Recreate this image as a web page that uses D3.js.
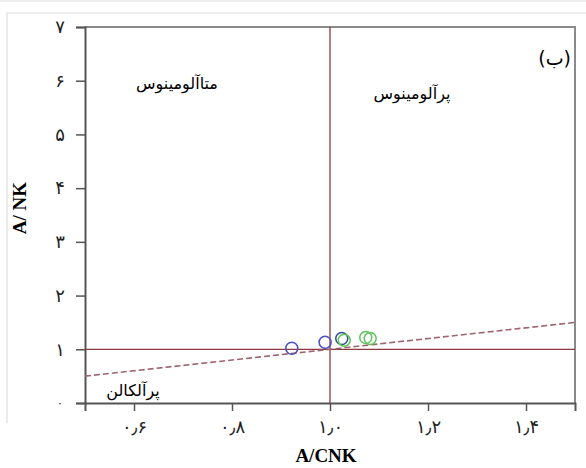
<!DOCTYPE html>
<meta charset="utf-8">
<script src="https://d3js.org/d3.v7.min.js"></script>
<html>
<head>
<style>
body { margin: 0; background: white; }
.tick text { font-family: "DejaVu Sans", sans-serif; }
</style>
</head>
<body>
<div id="my_dataviz"></div>
<script>

  // data
  var acnk = [0.922, 0.990, 1.024, 1.029, 1.073, 1.082];
  var anki = [1.02, 1.13, 1.20, 1.17, 1.22, 1.20];
  var group = ["blue", "blue", "navy", "green", "green", "green"];
  var yTicks = [0, 1, 2, 3, 4, 5, 6, 7];
  var yTickLabels = ["۰", "۱", "۲", "۳", "۴", "۵", "۶", "۷"];
  var xTicks = [0.6, 0.8, 1.0, 1.2, 1.4];
  var xTickLabels = ["۰٫۶", "۰٫۸", "۱٫۰", "۱٫۲", "۱٫۴"];
  var shandLine = [[0.5, 0.5], [1.5, 1.5]];

  var colors = {blue: "#4b4fc0", navy: "#2f4d93", green: "#5cc45c"};

  var margin = {top: 27, right: 11, bottom: 65, left: 85},
      width = 586 - margin.left - margin.right,
      height = 468 - margin.top - margin.bottom;

  var root = d3.select("#my_dataviz")
    .append("svg")
      .attr("width", 586)
      .attr("height", 468);

  // faint page frame of the source document
  root.append("path")
    .attr("d", "M7,423 V13 H586 M0,1 H586")
    .attr("fill", "none")
    .attr("stroke", "#dedede")
    .attr("stroke-width", 1.2);

  var svg = root.append("g")
    .attr("transform", "translate(" + margin.left + "," + margin.top + ")");

  var x = d3.scaleLinear().domain([0.5, 1.5]).range([0, width]);
  var y = d3.scaleLinear().domain([0, 7]).range([height, 0]);

  // top / right border
  svg.append("path")
    .attr("d", "M0,0 H" + width + " V" + height)
    .attr("fill", "none")
    .attr("stroke", "#8a8a8a")
    .attr("stroke-width", 2);

  // x axis
  var xAxis = svg.append("g")
    .attr("transform", "translate(0," + height + ")")
    .call(d3.axisBottom(x).tickValues(xTicks).tickSize(8).tickPadding(9)
      .tickFormat(function(d, i) { return xTickLabels[i]; }));

  // y axis
  var yAxis = svg.append("g")
    .call(d3.axisLeft(y).tickValues(yTicks).tickSize(9).tickPadding(9)
      .tickFormat(function(d, i) { return yTickLabels[i]; }));

  [xAxis, yAxis].forEach(function(a) {
    a.select(".domain").attr("stroke", "#555").attr("stroke-width", 2);
    a.selectAll(".tick line").attr("stroke", "#555").attr("stroke-width", 1.5);
    a.selectAll(".tick text").style("font-size", "18px").attr("fill", "#222");
  });
  // centre the persian digits under the reference column
  yAxis.selectAll(".tick text").attr("text-anchor", "middle").attr("x", -25);
  yAxis.select(".tick:first-of-type text").style("font-size", "11px");

  // reference lines
  svg.append("line")
    .attr("x1", x(1)).attr("x2", x(1))
    .attr("y1", 0).attr("y2", height)
    .attr("stroke", "#8b3a3f").attr("stroke-width", 1.3);
  svg.append("line")
    .attr("x1", 0).attr("x2", width)
    .attr("y1", y(1)).attr("y2", y(1))
    .attr("stroke", "#8b3a3f").attr("stroke-width", 1.3);

  // dashed boundary line
  svg.append("path")
    .datum(shandLine)
    .attr("fill", "none")
    .attr("stroke", "#a06470")
    .attr("stroke-width", 1.6)
    .attr("stroke-dasharray", "6,3")
    .attr("d", d3.line()
      .x(function(d) { return x(d[0]); })
      .y(function(d) { return y(d[1]); }));

  // samples
  svg.append("g")
    .selectAll("circle")
    .data(acnk)
    .enter()
    .append("circle")
      .attr("cx", function(d) { return x(d); })
      .attr("cy", function(d, i) { return y(anki[i]); })
      .attr("r", 6)
      .attr("fill", "none")
      .attr("stroke", function(d, i) { return colors[group[i]]; })
      .attr("stroke-width", 1.5);

  // field labels
  var fa = "'DejaVu Sans', sans-serif";
  svg.append("text")
    .attr("x", 92).attr("y", 62)
    .attr("text-anchor", "middle")
    .style("font-family", fa).style("font-size", "16px")
    .text("متاآلومینوس");
  svg.append("text")
    .attr("x", 327).attr("y", 72)
    .attr("text-anchor", "middle")
    .style("font-family", fa).style("font-size", "16px")
    .text("پرآلومینوس");
  svg.append("text")
    .attr("x", 486).attr("y", 38)
    .attr("text-anchor", "end")
    .style("font-family", fa).style("font-size", "19px")
    .text("(ب)");
  svg.append("text")
    .attr("x", 48).attr("y", 369)
    .attr("text-anchor", "middle")
    .style("font-family", fa).style("font-size", "16px")
    .text("پرآلکالن");

  // axis titles
  root.append("text")
    .attr("x", 326).attr("y", 462)
    .attr("text-anchor", "middle")
    .style("font-family", "'Liberation Serif', serif")
    .style("font-weight", "bold").style("font-size", "19px")
    .text("A/CNK");
  root.append("text")
    .attr("transform", "translate(26,208) rotate(-90)")
    .attr("text-anchor", "middle")
    .style("font-family", "'Liberation Serif', serif")
    .style("font-weight", "bold").style("font-size", "19px")
    .text("A/ NK");

</script>
</body>
</html>
